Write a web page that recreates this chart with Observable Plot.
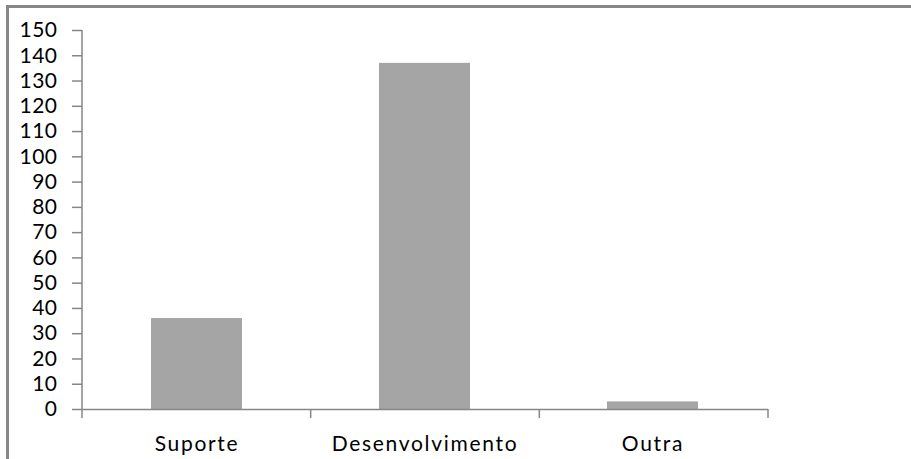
<!DOCTYPE html>
<html>
<head>
<meta charset="utf-8">
<script src="https://cdn.jsdelivr.net/npm/d3@7"></script>
<script src="https://cdn.jsdelivr.net/npm/@observablehq/plot@0.6"></script>
<style>
  html, body { margin: 0; padding: 0; background: #fff; }
  #wrap { position: relative; width: 911px; height: 459px; overflow: hidden; }
  #border { position: absolute; left: 6px; top: 5px; width: 1000px; height: 1000px;
            border-top: 3px solid #878787; border-left: 3px solid #878787; box-sizing: border-box; }
  #chart svg { display: block; }
  .ylab text { letter-spacing: 0.5px; }
  .xlab text { letter-spacing: 1.7px; }
</style>
</head>
<body>
<div id="wrap">
  <div id="chart"></div>
  <div id="border"></div>
</div>
<script>
// Categories and counts
const categories = ["Suporte", "Desenvolvimento", "Outra"];
const values = [36, 137, 3];
const yTicks = [0, 10, 20, 30, 40, 50, 60, 70, 80, 90, 100, 110, 120, 130, 140, 150];

const data = categories.map((c, i) => ({ category: c, value: values[i] }));

const axisColor = "#868686";
const font = "Lato, 'Open Sans', sans-serif";

const chart = Plot.plot({
  width: 911,
  height: 459,
  marginLeft: 82,
  marginRight: 143,
  marginTop: 30,
  marginBottom: 50,
  style: { fontFamily: font, background: "white", color: "#000" },
  x: { domain: categories, paddingInner: 0.6, paddingOuter: 0.3, label: null },
  y: { domain: [0, 150], label: null },
  marks: [
    Plot.barY(data, { x: "category", y: "value", fill: "#a5a5a5" }),
    Plot.ruleY([0], { stroke: axisColor, strokeWidth: 1.5 }),
    Plot.axisY({ ticks: yTicks, tickSize: 10, tickPadding: 15, fontSize: 21, stroke: axisColor,
                 strokeWidth: 1.5, fill: "#000", tickFormat: d => String(d), className: "ylab" }),
    Plot.axisX({ tickSize: 0, tickPadding: 27, fontSize: 21, fill: "#000", className: "xlab" })
  ]
});

document.getElementById("chart").appendChild(chart);

// Axis line on the left and category boundary ticks, positioned from the plot's own scales
const xs = chart.scale("x");
const ys = chart.scale("y");
const x = d3.scaleBand().domain(xs.domain).range(xs.range)
  .paddingInner(xs.paddingInner).paddingOuter(xs.paddingOuter);
const half = (x.step() - x.bandwidth()) / 2;
const boundaries = categories.map(c => x(c) - half).concat([x(categories[categories.length - 1]) + x.bandwidth() + half]);
const y0 = ys.apply(0), yTop = ys.apply(150);
const svg = d3.select(chart);
const g = svg.append("g").attr("stroke", axisColor).attr("stroke-width", 1.5);
g.append("line").attr("x1", boundaries[0]).attr("x2", boundaries[0]).attr("y1", yTop).attr("y2", y0 + 9);
boundaries.slice(1).forEach(b => {
  g.append("line").attr("x1", b).attr("x2", b).attr("y1", y0).attr("y2", y0 + 9);
});
</script>
</body>
</html>
